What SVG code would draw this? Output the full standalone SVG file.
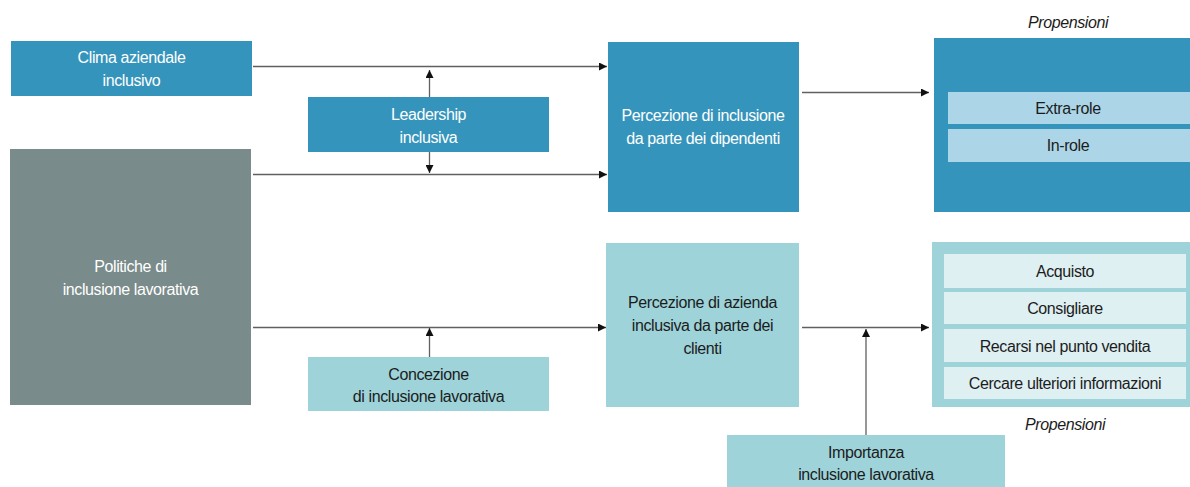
<svg xmlns="http://www.w3.org/2000/svg" width="1190" height="487" viewBox="0 0 1190 487">
  <style>
    .lbl { font-family: "Liberation Sans", Arial, sans-serif; font-size: 16px; letter-spacing: -0.4px; text-anchor: middle; }
    .w { fill: #ffffff; }
    .d { fill: #1c1c1c; }
    .cap { font-family: "Liberation Sans", Arial, sans-serif; font-size: 16px; font-style: italic; letter-spacing: -0.4px; text-anchor: middle; fill: #1c1c1c; }
    .blue { fill: #3594bb; }
    .grey { fill: #7a8b8b; }
    .teal { fill: #9dd3d9; }
    .sky { fill: #acd6e8; }
    .pale { fill: #dff0f3; }
    .conn { stroke: #606060; stroke-width: 1.3; fill: none; marker-end: url(#head); }
  </style>
  <defs>
    <marker id="head" viewBox="0 0 10 10" refX="10" refY="5" markerWidth="8" markerHeight="8" markerUnits="userSpaceOnUse" orient="auto">
      <path d="M0,0 L10,5 L0,10 Z" fill="#111"/>
    </marker>
  </defs>

  <rect width="1190" height="487" fill="#ffffff"/>

  <!-- connectors -->
  <g id="connectors">
    <line class="conn" x1="253" y1="66.5" x2="607" y2="66.5"/>
    <line class="conn" x1="253" y1="174.5" x2="607" y2="174.5"/>
    <line class="conn" x1="429.5" y1="97" x2="429.5" y2="70"/>
    <line class="conn" x1="429.5" y1="152" x2="429.5" y2="173"/>
    <line class="conn" x1="253" y1="327.5" x2="606" y2="327.5"/>
    <line class="conn" x1="429.5" y1="357" x2="429.5" y2="328"/>
    <line class="conn" x1="802" y1="92.5" x2="929" y2="92.5"/>
    <line class="conn" x1="802" y1="327.5" x2="929" y2="327.5"/>
    <line class="conn" x1="866" y1="435" x2="866" y2="329"/>
  </g>

  <g id="clima">
    <rect class="blue" x="11" y="41" width="241" height="55"/>
    <text class="lbl w" x="131.5" y="63">Clima aziendale</text>
    <text class="lbl w" x="131.5" y="86">inclusivo</text>
  </g>

  <g id="leadership">
    <rect class="blue" x="308" y="97" width="241" height="55"/>
    <text class="lbl w" x="428.5" y="120">Leadership</text>
    <text class="lbl w" x="428.5" y="143">inclusiva</text>
  </g>

  <g id="politiche">
    <rect class="grey" x="10" y="149" width="241" height="256"/>
    <text class="lbl w" x="130.5" y="272">Politiche di</text>
    <text class="lbl w" x="130.5" y="295">inclusione lavorativa</text>
  </g>

  <g id="concezione">
    <rect class="teal" x="308" y="357" width="241" height="54"/>
    <text class="lbl d" x="428.5" y="380">Concezione</text>
    <text class="lbl d" x="428.5" y="402">di inclusione lavorativa</text>
  </g>

  <g id="percezione-dipendenti">
    <rect class="blue" x="608" y="42" width="191" height="170"/>
    <text class="lbl w" x="703" y="121">Percezione di inclusione</text>
    <text class="lbl w" x="703" y="144">da parte dei dipendenti</text>
  </g>

  <g id="percezione-clienti">
    <rect class="teal" x="606" y="243" width="193" height="164"/>
    <text class="lbl d" x="702.5" y="308">Percezione di azienda</text>
    <text class="lbl d" x="702.5" y="331">inclusiva da parte dei</text>
    <text class="lbl d" x="702.5" y="354">clienti</text>
  </g>

  <g id="propensioni-dipendenti">
    <text class="cap" x="1068" y="28">Propensioni</text>
    <rect class="blue" x="934" y="38" width="256" height="174"/>
    <rect class="sky" x="948" y="92" width="242" height="32"/>
    <text class="lbl d" x="1068" y="114">Extra-role</text>
    <rect class="sky" x="948" y="129" width="242" height="33"/>
    <text class="lbl d" x="1068" y="151">In-role</text>
  </g>

  <g id="propensioni-clienti">
    <rect class="teal" x="932" y="242" width="258" height="165"/>
    <rect class="pale" x="944" y="254" width="242" height="34"/>
    <text class="lbl d" x="1065" y="277">Acquisto</text>
    <rect class="pale" x="944" y="292" width="242" height="32"/>
    <text class="lbl d" x="1065" y="314">Consigliare</text>
    <rect class="pale" x="944" y="329" width="242" height="33"/>
    <text class="lbl d" x="1065" y="352">Recarsi nel punto vendita</text>
    <rect class="pale" x="944" y="367" width="242" height="32"/>
    <text class="lbl d" x="1065" y="389">Cercare ulteriori informazioni</text>
    <text class="cap" x="1065" y="430">Propensioni</text>
  </g>

  <g id="importanza">
    <rect class="teal" x="727" y="435" width="278" height="52"/>
    <text class="lbl d" x="866" y="458">Importanza</text>
    <text class="lbl d" x="866" y="480">inclusione lavorativa</text>
  </g>
</svg>
